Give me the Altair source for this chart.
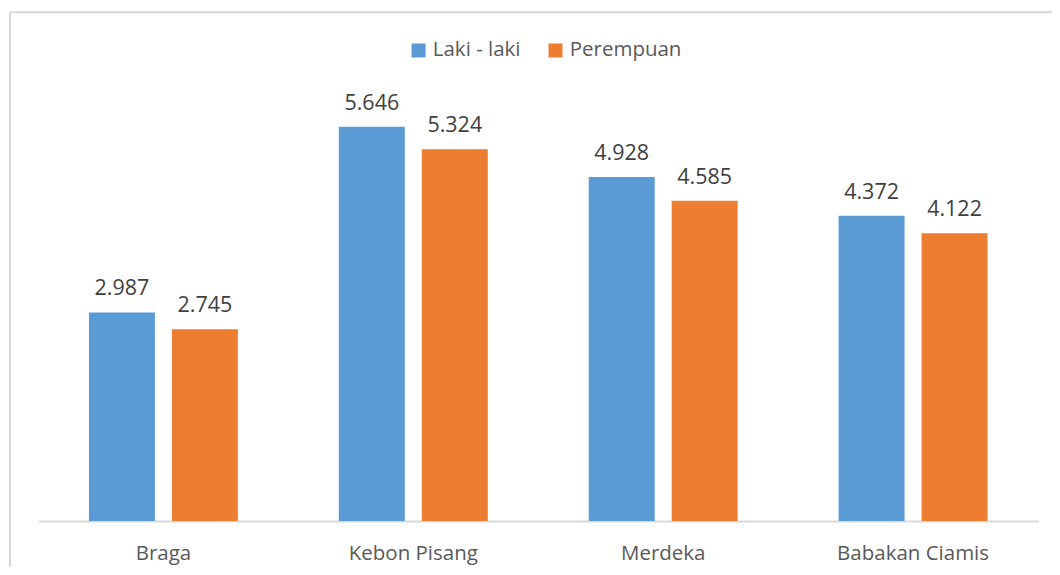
import altair as alt
import pandas as pd

categories = ["Braga", "Kebon Pisang", "Merdeka", "Babakan Ciamis"]
series = ["Laki - laki", "Perempuan"]
laki = [2.987, 5.646, 4.928, 4.372]
perempuan = [2.745, 5.324, 4.585, 4.122]
colors = ["#5B9BD5", "#ED7D31"]

rows = []
for c, a, b in zip(categories, laki, perempuan):
    rows.append({"kategori": c, "jenis": series[0], "nilai": a, "label": f"{a:.3f}"})
    rows.append({"kategori": c, "jenis": series[1], "nilai": b, "label": f"{b:.3f}"})
df = pd.DataFrame(rows)

FONT = "Open Sans"

x = alt.X(
    "kategori:N",
    sort=categories,
    scale=alt.Scale(paddingInner=0, paddingOuter=0),
    axis=alt.Axis(
        title=None, labelAngle=0, labelFont=FONT, labelFontSize=20.5,
        labelColor="#595959", labelPadding=23, ticks=False,
        domainColor="#D9D9D9", domainWidth=2,
    ),
)
xo = alt.XOffset("jenis:N", sort=series,
                 scale=alt.Scale(paddingInner=0.2048, paddingOuter=0.608))
y = alt.Y("nilai:Q", scale=alt.Scale(domain=[0, 6]), axis=None)

color = alt.Color(
    "jenis:N",
    sort=series,
    scale=alt.Scale(domain=series, range=colors),
    legend=alt.Legend(
        title=None, orient="none", legendX=370, legendY=-62,
        direction="horizontal", symbolType="square", symbolSize=196,
        symbolStrokeWidth=0, labelFont=FONT, labelFontSize=20.5,
        labelColor="#595959", labelOffset=4, columnPadding=24, padding=0,
    ),
)

base = alt.Chart(df).encode(x=x, xOffset=xo, y=y)
bars = base.mark_bar().encode(color=color)
labels = base.mark_text(dy=-17, baseline="alphabetic", font=FONT,
                        fontSize=21.5, color="#404040").encode(text="label:N")

frame_df = pd.DataFrame({"f": [0]})
top_line = alt.Chart(frame_df).mark_rule(color="#D9D9D9", strokeWidth=2).encode(
    x=alt.value(-28.5), x2=alt.value(1100), y=alt.value(-90)
)
left_line = alt.Chart(frame_df).mark_rule(color="#D9D9D9", strokeWidth=2).encode(
    x=alt.value(-28.5), y=alt.value(-90), y2=alt.value(600)
)

chart = alt.layer(top_line, left_line, bars, labels).properties(
    width=1000,
    height=419,
    autosize=alt.AutoSizeParams(type="none"),
    padding={"left": 30.5, "top": 94, "right": 14, "bottom": 46},
).configure_view(stroke=None)

chart.save("out.html", embed_options={"renderer": "svg", "actions": False})
